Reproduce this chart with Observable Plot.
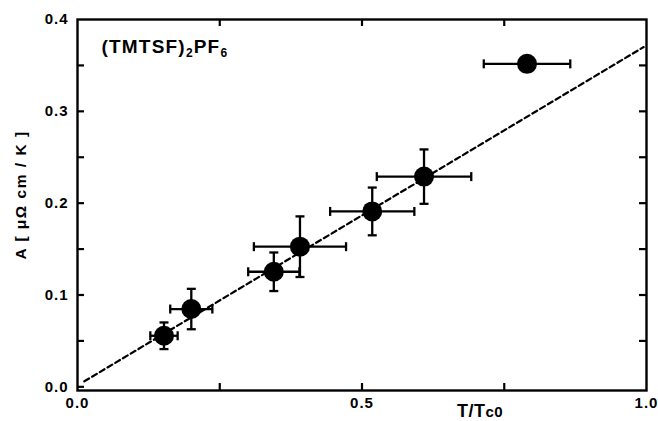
<!DOCTYPE html>
<html><head><meta charset="utf-8">
<script src="https://cdn.jsdelivr.net/npm/d3@7"></script>
<script src="https://cdn.jsdelivr.net/npm/@observablehq/plot@0.6"></script>
<style>
body{margin:0;background:#fff;}
#chart svg{display:block;}
</style></head><body><div id="chart"></div>
<script>
// ---- data ----
const tRatio = [0.152, 0.200, 0.345, 0.391, 0.518, 0.609, 0.790];
const aCoef  = [0.0556, 0.0847, 0.1253, 0.1526, 0.191, 0.2289, 0.3517];
const xErr   = [0.024, 0.037, 0.045, 0.081, 0.074, 0.083, 0.076];
const yErr   = [0.0145, 0.022, 0.021, 0.033, 0.026, 0.0296, 0.004];
const fitX   = [0.012, 0.995];
const fitY   = [0.006, 0.370];
const xTickLabels = [0, 0.5, 1.0];
const xTicksInner = [0.25, 0.5, 0.75];
const yTickLabels = [0, 0.1, 0.2, 0.3, 0.4];
const yTicksLeft  = [0, 0.05, 0.1, 0.15, 0.2, 0.25, 0.3, 0.35];
const yTicksRight = [0.05, 0.1, 0.15, 0.2, 0.25, 0.3, 0.35];
const titleText = "(TMTSF)2PF6";
const yLabelText = "A [ μΩ cm / K ]";
const xLabelText = "T/Tc0";

const W = 658, H = 421;
const mL = 77, mR = 12, mT = 19, mB = 31;
const innerW = W - mL - mR, innerH = H - mT - mB;
const tickLen = 7;

const pts = tRatio.map((x, i) => ({x, y: aCoef[i], ex: xErr[i], ey: yErr[i]}));
const fit = fitX.map((x, i) => ({x, y: fitY[i]}));
const capsV = pts.flatMap(d => [{x: d.x, y: d.y - d.ey}, {x: d.x, y: d.y + d.ey}]);
const capsH = pts.flatMap(d => [{x: d.x - d.ex, y: d.y}, {x: d.x + d.ex, y: d.y}]);

const hCap = {draw(ctx, size) { const r = Math.sqrt(size / Math.PI); ctx.moveTo(-r, 0); ctx.lineTo(r, 0); }};
const vCap = {draw(ctx, size) { const r = Math.sqrt(size / Math.PI); ctx.moveTo(0, -r); ctx.lineTo(0, r); }};

const plot = Plot.plot({
  width: W, height: H,
  marginLeft: mL, marginRight: mR, marginTop: mT, marginBottom: mB,
  style: {fontFamily: "Liberation Sans, Arial, sans-serif", fontSize: "15px", fontWeight: "bold", color: "#000", background: "#fff"},
  x: {domain: [0, 1]},
  y: {domain: [-0.004, 0.4]},
  marks: [
    Plot.axisX(xTickLabels, {tickSize: 0, tickPadding: 7, tickFormat: d3.format(".1f"), label: null, fontSize: 15}),
    Plot.axisY(yTickLabels, {tickSize: 0, tickPadding: 9, tickFormat: d3.format(".1f"), label: null, fontSize: 15}),
    Plot.tickX(xTicksInner, {x: d => d, insetTop: innerH - tickLen, strokeWidth: 2.2}),
    Plot.tickX(xTicksInner, {x: d => d, insetBottom: innerH - tickLen, strokeWidth: 2.2}),
    Plot.tickY(yTicksLeft, {y: d => d, insetRight: innerW - tickLen, strokeWidth: 2.2}),
    Plot.tickY(yTicksRight, {y: d => d, insetLeft: innerW - tickLen, strokeWidth: 2.2}),
    Plot.line(fit, {x: "x", y: "y", stroke: "#000", strokeWidth: 2.2, strokeDasharray: "5.5,3.5"}),
    Plot.ruleX(pts, {x: "x", y1: d => d.y - d.ey, y2: d => d.y + d.ey, stroke: "#000", strokeWidth: 2.3}),
    Plot.ruleY(pts, {y: "y", x1: d => d.x - d.ex, x2: d => d.x + d.ex, stroke: "#000", strokeWidth: 2.3}),
    Plot.dot(capsV, {x: "x", y: "y", symbol: hCap, r: 4.5, stroke: "#000", strokeWidth: 2.3, fill: "none"}),
    Plot.dot(capsH, {x: "x", y: "y", symbol: vCap, r: 4.5, stroke: "#000", strokeWidth: 2.3, fill: "none"}),
    Plot.dot(pts, {x: "x", y: "y", r: 10, fill: "#000", stroke: "none"}),
    Plot.frame({stroke: "#000", strokeWidth: 2.4}),
    Plot.text([titleText], {frameAnchor: "top-left", dx: 24, dy: 27, textAnchor: "start", lineAnchor: "middle", fontSize: 19, fontWeight: "bold"}),
    Plot.text([xLabelText], {frameAnchor: "bottom", dx: 118, dy: 21, textAnchor: "middle", lineAnchor: "middle", fontSize: 18, fontWeight: "bold"}),
    Plot.text([yLabelText], {frameAnchor: "left", dx: -56, dy: -10, rotate: -90, textAnchor: "middle", lineAnchor: "middle", fontSize: 15.5, fontWeight: "bold"})
  ]
});

// rich text: subscripts and letter spacing
d3.select(plot).selectAll("text").each(function() {
  const t = this.textContent;
  const sel = d3.select(this);
  if (t === titleText) {
    sel.text(null).style("letter-spacing", "1.2px");
    sel.append("tspan").text("(TMTSF)");
    sel.append("tspan").text("2").attr("font-size", 12).attr("dy", 4);
    sel.append("tspan").text("PF").attr("dy", -4);
    sel.append("tspan").text("6").attr("font-size", 12).attr("dy", 4);
  } else if (t === xLabelText) {
    sel.text(null).style("letter-spacing", "0.5px");
    sel.append("tspan").text("T/T");
    sel.append("tspan").text("c0").attr("font-size", 15);
  } else if (t === yLabelText) {
    sel.style("letter-spacing", "1.5px");
  } else {
    sel.style("letter-spacing", "1px");
  }
});
document.getElementById("chart").append(plot);
</script></body></html>
